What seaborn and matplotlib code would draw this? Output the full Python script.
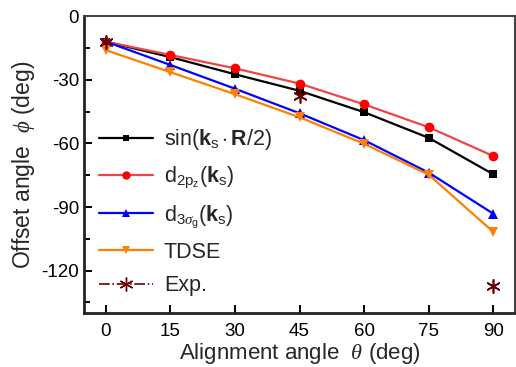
import matplotlib
matplotlib.use("Agg")
import matplotlib.pyplot as plt
from matplotlib.lines import Line2D
from matplotlib.ticker import MultipleLocator
import seaborn as sb
import numpy as np

# alignment angle (deg)
theta = [0, 15, 30, 45, 60, 75, 90]

sin_model = [-12, -19.3, -27.4, -35.2, -45.3, -57.4, -74.6]
d2pz = [-12, -18.3, -24.6, -31.8, -41.6, -52.4, -66.0]
d3sg = [-12, -23.0, -34.2, -45.8, -58.5, -73.8, -93.2]
tdse = [-16, -26.4, -36.8, -47.7, -60.2, -74.8, -101.8]

exp_theta = [0, 45, 90]
exp_phi = [-12, -37.8, -127.2]

sb.set_style("ticks")
plt.rcParams["font.family"] = ["Liberation Sans", "DejaVu Sans"]
plt.rcParams["axes.unicode_minus"] = False
plt.rcParams["mathtext.fontset"] = "custom"
plt.rcParams["mathtext.rm"] = "Liberation Sans"
plt.rcParams["mathtext.bf"] = "Liberation Sans:bold"
plt.rcParams["mathtext.it"] = "Liberation Serif:italic"

fig = plt.figure(figsize=(5.16, 3.67), dpi=100)
ax = fig.add_axes([0.163, 0.147, 0.835, 0.809])

sb.lineplot(x=theta, y=sin_model, color="black", marker="s", markersize=6,
	markeredgewidth=0, linewidth=1.6, ax=ax)
sb.lineplot(x=theta, y=d2pz, color="#f04545", marker="o", markersize=7,
	markerfacecolor="#ff0000", markeredgewidth=0, linewidth=1.6, ax=ax)
sb.lineplot(x=theta, y=d3sg, color="#0000ff", marker="^", markersize=7,
	markeredgewidth=0, linewidth=1.6, ax=ax)
sb.lineplot(x=theta, y=tdse, color="#ff8000", marker="v", markersize=7,
	markeredgewidth=0, linewidth=1.6, ax=ax)
sb.scatterplot(x=exp_theta, y=exp_phi, color="#6b0000", marker=(6, 2, 0), s=90,
	linewidth=1.2, ax=ax, zorder=5)

handles = [
	Line2D([], [], color="black", marker="s", markersize=5, markeredgewidth=0, lw=1.6),
	Line2D([], [], color="#f04545", marker="o", markersize=6, markerfacecolor="#ff0000",
		markeredgewidth=0, lw=1.6),
	Line2D([], [], color="#0000ff", marker="^", markersize=6, markeredgewidth=0, lw=1.6),
	Line2D([], [], color="#ff8000", marker="v", markersize=6, markeredgewidth=0, lw=1.6),
	Line2D([], [], color="#6b0000", marker=(6, 2, 0), markersize=10, ls="-.", lw=1.2),
]
labels = [
	r"sin($\mathbf{k}_\mathrm{s}\cdot\mathbf{R}$/2)",
	r"d$_{2\mathrm{p}_\mathrm{z}}$($\mathbf{k}_\mathrm{s}$)",
	r"d$_{3\sigma_\mathrm{g}}$($\mathbf{k}_\mathrm{s}$)",
	"TDSE",
	"Exp.",
]
ax.legend(handles, labels, loc="lower left", bbox_to_anchor=(0.0, 0.005), frameon=False,
	fontsize=15.5, handlelength=2.5, handletextpad=0.5, labelspacing=0.58, borderaxespad=0.3)

ax.set_xlim(-5, 95)
ax.set_ylim(-140, 0)
ax.set_xticks(theta)
ax.yaxis.set_major_locator(MultipleLocator(30))
ax.yaxis.set_minor_locator(MultipleLocator(15))
ax.tick_params(axis="both", which="both", direction="in", labelsize=13.5, width=1.4, colors="black")
ax.tick_params(which="major", length=6)
ax.tick_params(which="minor", length=4)
ax.tick_params(axis="x", pad=7)

for side in ("left", "bottom"):
	ax.spines[side].set_linewidth(2)
	ax.spines[side].set_color("#222222")
for side in ("top", "right"):
	ax.spines[side].set_visible(True)
	ax.spines[side].set_linewidth(1.5)
	ax.spines[side].set_color("#444444")

ax.set_xlabel(r"Alignment angle  $\theta$ (deg)", fontsize=16, labelpad=1)
ax.set_ylabel(r"Offset angle  $\phi$ (deg)", fontsize=16.5, labelpad=3)

plt.savefig("out.png", dpi=100)
